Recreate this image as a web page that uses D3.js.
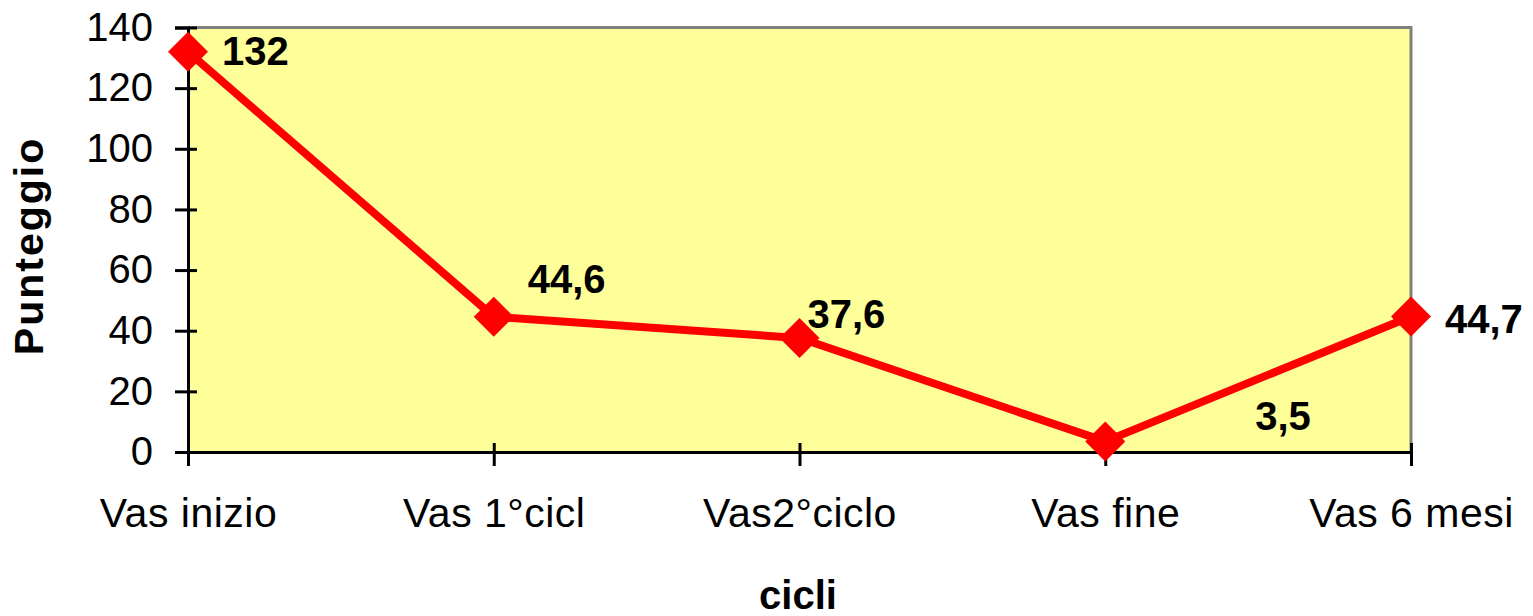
<!DOCTYPE html>
<html>
<head>
<meta charset="utf-8">
<script src="https://cdn.jsdelivr.net/npm/d3@7"></script>
<style>
  html, body { margin: 0; padding: 0; background: #fff; }
  svg { display: block; font-family: "Liberation Sans", Arial, sans-serif; }
</style>
</head>
<body>
<svg id="visualization" width="1533" height="616"></svg>
<script>
const categories = ["Vas inizio", "Vas 1°cicl", "Vas2°ciclo", "Vas fine", "Vas 6 mesi"];
const values = [132, 44.6, 37.6, 3.5, 44.7];
const yTicks = [0, 20, 40, 60, 80, 100, 120, 140];

// label placement relative to each point (moved by hand in the original)
const labelOffsets = [[34, 13], [34, -24], [8, -10], [150, -11], [34, 17]];

const itFormat = d3.formatLocale({ decimal: ",", thousands: ".", grouping: [3], currency: ["", "€"] }).format("~g");

const svg = d3.select("#visualization");
const plot = { left: 188, right: 1411, top: 27.5, bottom: 452 };

const x = d3.scalePoint().domain(categories).range([plot.left, plot.right]);
const y = d3.scaleLinear().domain([0, 140]).range([plot.bottom, plot.top]);

// plot area
svg.append("rect")
    .attr("x", plot.left).attr("y", plot.top)
    .attr("width", plot.right - plot.left).attr("height", plot.bottom - plot.top)
    .attr("fill", "#ffff99");

svg.append("path")
    .attr("d", `M${plot.left},${plot.top}H${plot.right}V${plot.bottom}`)
    .attr("fill", "none")
    .attr("stroke", "#808080")
    .attr("stroke-width", 3);

// y axis
const yAxis = svg.append("g")
    .attr("transform", `translate(${plot.left},0)`)
    .call(d3.axisLeft(y).tickValues(yTicks).tickSize(13).tickPadding(22));
yAxis.select(".domain").attr("stroke", "#000").attr("stroke-width", 3);
yAxis.selectAll(".tick line").attr("x1", 9).attr("stroke", "#000").attr("stroke-width", 3);
yAxis.selectAll(".tick text")
    .attr("font-size", 40)
    .attr("font-family", "Liberation Sans, Arial, sans-serif")
    .attr("fill", "#000");

// x axis
const xAxis = svg.append("g")
    .attr("transform", `translate(0,${plot.bottom})`)
    .call(d3.axisBottom(x).tickSize(14).tickPadding(32).tickSizeOuter(0));
xAxis.select(".domain").attr("stroke", "#000").attr("stroke-width", 3);
xAxis.selectAll(".tick line").attr("y1", -9).attr("stroke", "#000").attr("stroke-width", 3);
xAxis.selectAll(".tick text")
    .attr("font-size", 41)
    .attr("letter-spacing", 0.5)
    .attr("font-family", "Liberation Sans, Arial, sans-serif")
    .attr("fill", "#000");

// series line
const pts = categories.map((c, i) => ({ c, v: values[i], i }));
svg.append("path")
    .datum(pts)
    .attr("fill", "none")
    .attr("stroke", "#ff0000")
    .attr("stroke-width", 8)
    .attr("stroke-linejoin", "round")
    .attr("d", d3.line().x(d => x(d.c)).y(d => y(d.v)));

// diamond markers
svg.selectAll("path.marker")
    .data(pts)
    .join("path")
    .attr("class", "marker")
    .attr("fill", "#ff0000")
    .attr("d", d => {
        const cx = x(d.c), cy = y(d.v), r = 20;
        return `M${cx},${cy - r}L${cx + r},${cy}L${cx},${cy + r}L${cx - r},${cy}Z`;
    });

// data labels
svg.selectAll("text.label")
    .data(pts)
    .join("text")
    .attr("class", "label")
    .attr("x", d => x(d.c) + labelOffsets[d.i][0])
    .attr("y", d => y(d.v) + labelOffsets[d.i][1])
    .attr("font-size", 40)
    .attr("font-weight", "bold")
    .attr("fill", "#000")
    .text(d => itFormat(d.v));

// axis titles
svg.append("text")
    .attr("transform", `translate(43,246) rotate(-90)`)
    .attr("text-anchor", "middle")
    .attr("font-size", 41)
    .attr("letter-spacing", 2)
    .attr("font-weight", "bold")
    .text("Punteggio");

svg.append("text")
    .attr("x", 798)
    .attr("y", 609)
    .attr("text-anchor", "middle")
    .attr("font-size", 40)
    .attr("font-weight", "bold")
    .text("cicli");
</script>
</body>
</html>
